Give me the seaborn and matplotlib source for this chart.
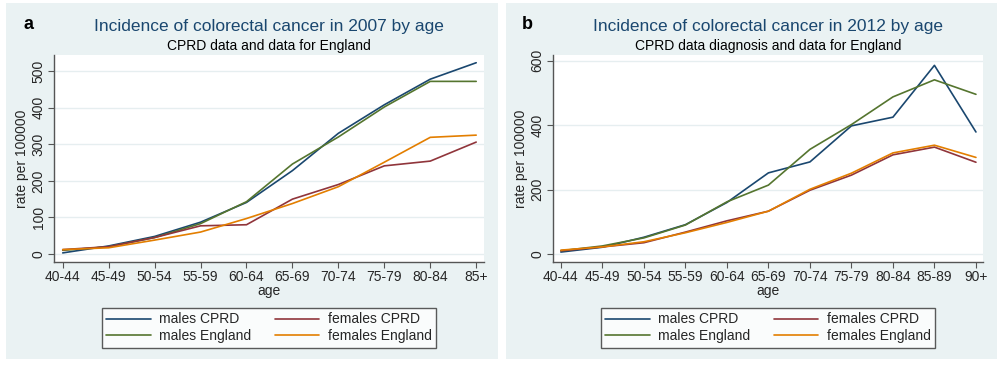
import pandas as pd
import numpy as np
import matplotlib
matplotlib.use('Agg')
import matplotlib.pyplot as plt
import seaborn as sns
from matplotlib.patches import Rectangle

ages_2007 = ['40-44', '45-49', '50-54', '55-59', '60-64', '65-69', '70-74', '75-79', '80-84', '85+']
males_cprd_2007 = [3, 22, 48, 87, 141, 228, 330, 408, 478, 523]
males_eng_2007 = [10, 20, 45, 83, 143, 246, 320, 402, 472, 472]
females_cprd_2007 = [12, 20, 45, 77, 80, 150, 190, 241, 254, 306]
females_eng_2007 = [12, 17, 38, 60, 97, 138, 184, 251, 319, 325]

ages_2012 = ['40-44', '45-49', '50-54', '55-59', '60-64', '65-69', '70-74', '75-79', '80-84', '85-89', '90+']
males_cprd_2012 = [6, 21, 52, 91, 160, 252, 286, 398, 425, 586, 379]
males_eng_2012 = [10, 25, 50, 90, 162, 214, 325, 402, 488, 541, 496]
females_cprd_2012 = [10, 22, 35, 68, 103, 133, 198, 245, 308, 332, 285]
females_eng_2012 = [12, 22, 38, 66, 98, 133, 201, 251, 314, 338, 300]

series_order = ['males CPRD', 'males England', 'females CPRD', 'females England']
palette = {'males CPRD': '#1a476f', 'females CPRD': '#90353b',
           'males England': '#55752f', 'females England': '#e37e00'}

def long_df(ages, mc, me, fc, fe):
    rows = []
    for name, vals in zip(series_order, [mc, me, fc, fe]):
        for i, (a, v) in enumerate(zip(ages, vals)):
            rows.append({'pos': i, 'age': a, 'rate': v, 'series': name})
    return pd.DataFrame(rows)

df07 = long_df(ages_2007, males_cprd_2007, males_eng_2007, females_cprd_2007, females_eng_2007)
df12 = long_df(ages_2012, males_cprd_2012, males_eng_2012, females_cprd_2012, females_eng_2012)

sns.set_style('white')
plt.rcParams['font.family'] = ['Liberation Sans', 'DejaVu Sans']

fig = plt.figure(figsize=(10, 3.67), dpi=100)
bg = '#eaf2f3'
# light panel backgrounds, one per graph
fig.patches.append(Rectangle((0.006, 0.022), 0.492, 0.970, transform=fig.transFigure,
                             facecolor=bg, edgecolor='none', zorder=-10))
fig.patches.append(Rectangle((0.506, 0.022), 0.491, 0.970, transform=fig.transFigure,
                             facecolor=bg, edgecolor='none', zorder=-10))

panels = [
    dict(df=df07, ages=ages_2007, left=0.054, ylim=(-22, 544), yticks=[0, 100, 200, 300, 400, 500],
         letter='a', title='Incidence of colorectal cancer in 2007 by age',
         sub='CPRD data and data for England'),
    dict(df=df12, ages=ages_2012, left=0.553, ylim=(-25, 618), yticks=[0, 200, 400, 600],
         letter='b', title='Incidence of colorectal cancer in 2012 by age',
         sub='CPRD data diagnosis and data for England'),
]

for p in panels:
    ax = fig.add_axes([p['left'], 0.286, 0.43, 0.564])
    ax.set_facecolor('white')
    sns.lineplot(data=p['df'], x='pos', y='rate', hue='series', hue_order=series_order,
                 palette=palette, linewidth=1.2, ax=ax)
    n = len(p['ages'])
    ax.set_xlim(-0.19, n - 1 + 0.17)
    ax.set_ylim(*p['ylim'])
    ax.set_xticks(range(n))
    ax.set_xticklabels(p['ages'], fontsize=10)
    ax.set_yticks(p['yticks'])
    ax.set_yticklabels([str(t) for t in p['yticks']], fontsize=10, rotation=90, va='center')
    ax.yaxis.grid(True, color='#e6eef0', linewidth=1)
    ax.set_axisbelow(True)
    for s in ['top', 'right']:
        ax.spines[s].set_visible(False)
    for s in ['left', 'bottom']:
        ax.spines[s].set_color('#555555')
        ax.spines[s].set_linewidth(1)
    ax.tick_params(axis='both', direction='out', length=4, width=0.8, color='#555555',
                   left=True, bottom=True, pad=2)
    ax.set_xlabel('age', fontsize=10, labelpad=0)
    ax.set_ylabel('rate per 100000', fontsize=10, labelpad=2)

    handles, labels = ax.get_legend_handles_labels()
    ax.legend(handles, labels, loc='upper center', bbox_to_anchor=(0.5, -0.22), ncol=2,
              frameon=True, fancybox=False, edgecolor='#333333', fontsize=10,
              handlelength=3.2, handletextpad=0.6, columnspacing=1.7, borderpad=0.35,
              labelspacing=0.2, borderaxespad=0)

    cx = p['left'] + 0.215
    fig.text(cx, 0.929, p['title'], ha='center', va='center', fontsize=12.5, color='#1a476f')
    fig.text(cx, 0.874, p['sub'], ha='center', va='center', fontsize=10, color='black')
    fig.text(p['left'] - 0.031, 0.934, p['letter'], ha='left', va='center', fontsize=13,
             fontweight='bold', color='black')

fig.savefig('out.png', dpi=100)
